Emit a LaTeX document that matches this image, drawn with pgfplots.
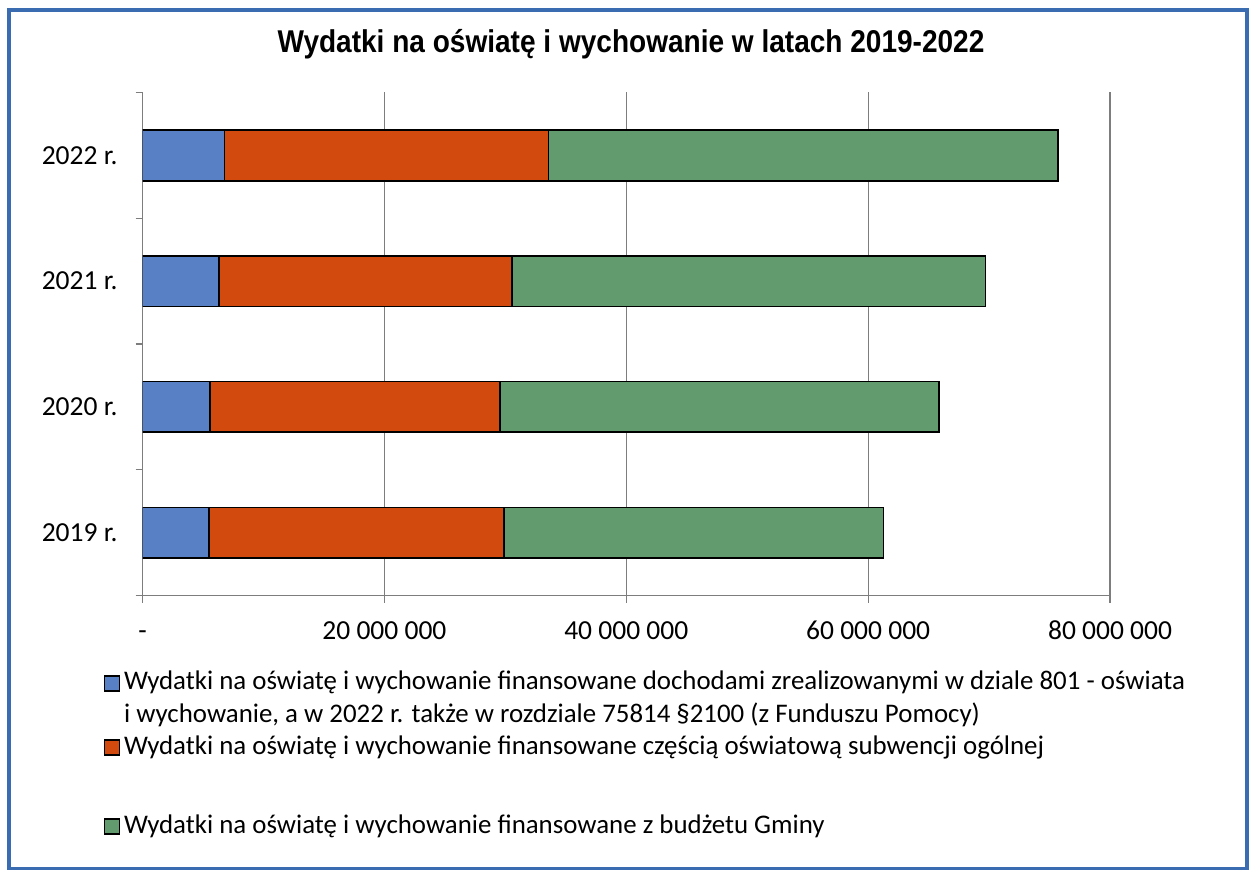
\documentclass[border=0pt]{standalone}
\usepackage{fontspec}
\setmainfont{Carlito}
\newfontfamily\titlefont{Liberation Sans}
\usepackage{pgfplots}
\pgfplotsset{compat=1.18}
\usepackage{pgfplotstable}
\definecolor{cblue}{RGB}{88,128,196}
\definecolor{corange}{RGB}{210,74,14}
\definecolor{cgreen}{RGB}{98,156,110}
\definecolor{frameblue}{RGB}{58,108,178}
\definecolor{gridgray}{RGB}{125,125,125}
\pgfplotstableread{
y a b c
1 5500000 24370000 31400000
2 5610000 23930000 36310000
3 6350000 24210000 39150000
4 6770000 26800000 42130000
}\datatable
\begin{document}
\begin{tikzpicture}
\begin{scope}[x=0.4pt,y=0.4pt]
\path[use as bounding box] (0,0) rectangle (1251,870);
\draw[frameblue, line width=1.5pt] (9,1.5) rectangle (1247,860);
\node[font=\titlefont\bfseries\fontsize{12.6}{14}\selectfont] at (631,826) {\scalebox{0.89}[1]{Wydatki na oświatę i wychowanie w latach 2019-2022}};
\end{scope}
\begin{axis}[
  at={(57pt,109.72pt)}, anchor=south west, scale only axis,
  width=387pt, height=201.3pt,
  xbar stacked, bar width=0.403,
  xmin=0, xmax=80000000, ymin=0.5, ymax=4.5,
  axis x line*=bottom, axis y line*=left,
  axis line style={gridgray, line width=0.5pt, -},
  scaled x ticks=false,
  xtick={0,20000000,40000000,60000000,80000000},
  xticklabels={-, 20 000 000, 40 000 000, 60 000 000, 80 000 000},
  ytick={0.5,1.5,2.5,3.5,4.5}, yticklabels={},
  extra y ticks={1,2,3,4},
  extra y tick labels={2019 r., 2020 r., 2021 r., 2022 r.},
  extra y tick style={major tick length=0pt, tick style={draw=none},
     yticklabel style={anchor=east, inner sep=0pt, xshift=-9.8pt}},
  tick align=outside, major tick length=2.8pt,
  tick style={gridgray, line width=0.5pt},
  xticklabel style={anchor=north, inner sep=0pt, yshift=-7pt, text height=7.5pt, text depth=2pt},
  xmajorgrids, grid style={gridgray, line width=0.5pt},
  every axis plot/.append style={draw=black, line width=0.7pt},
  font=\fontsize{11}{13}\selectfont,
  legend image code/.code={\draw[#1, draw=black, line width=0.6pt] (0pt,-3pt) rectangle (6pt,3pt);},
  legend cell align=left,
  legend style={draw=none, fill=none, inner sep=0pt, column sep=1.6pt,
     at={(-0.0408,-0.1417)}, anchor=north west,
     nodes={inner sep=0pt, text height=9pt, text depth=3.8pt},
     font=\fontsize{10.75}{13}\selectfont},
]
\addplot[fill=cblue] table[x=a,y=y]{\datatable};
\addlegendentry{Wydatki na oświatę i wychowanie finansowane dochodami zrealizowanymi w dziale 801 - oświata}
\addlegendimage{empty legend}
\addlegendentry{i wychowanie, a w 2022 r. także w rozdziale 75814 §2100 (z Funduszu Pomocy)}
\addplot[fill=corange] table[x=b,y=y]{\datatable};
\addlegendentry{Wydatki na oświatę i wychowanie finansowane częścią oświatową subwencji ogólnej}
\addlegendimage{empty legend}
\addlegendentry[text height=15pt, text depth=3.8pt]{}
\addplot[fill=cgreen] table[x=c,y=y]{\datatable};
\addlegendentry{Wydatki na oświatę i wychowanie finansowane z budżetu Gminy}
\end{axis}
\end{tikzpicture}
\end{document}
